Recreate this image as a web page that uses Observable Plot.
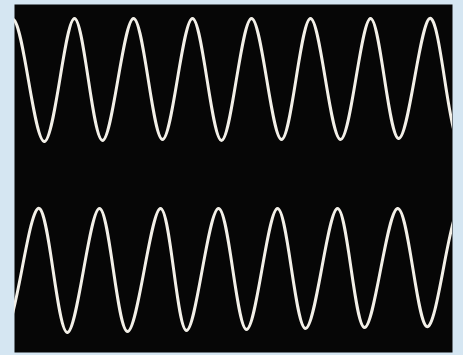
<!DOCTYPE html>
<html>
<head>
<meta charset="utf-8">
<script src="https://cdn.jsdelivr.net/npm/d3@7"></script>
<script src="https://cdn.jsdelivr.net/npm/@observablehq/plot@0.6"></script>
<style>
  html, body { margin: 0; padding: 0; background: #d5e6f2; }
  #chart svg { display: block; }
</style>
</head>
<body>
<div id="chart"></div>
<script>
// Trace 1 (upper): turning points (time, level)
const upperTime  = [-61, -31, -1, 30, 60, 88, 119, 148, 178, 207, 237, 267, 296, 326, 356, 384, 415, 442, 472];
const upperLevel = [333, 212, 333, 211, 334, 212, 334, 213, 334, 212, 334, 213, 334, 213, 334, 214, 334, 214, 334];

// Trace 2 (lower): turning points (time, level)
const lowerTime  = [-40, -8, 25, 53, 85, 113, 146, 172, 204, 232, 263, 291, 323, 350, 383, 412, 443, 472];
const lowerLevel = [144, 20, 144, 20, 144, 21, 144, 22, 144, 23, 144, 24, 144, 25, 144, 26, 143, 26];

const upper = upperTime.map((t, i) => ({t, v: upperLevel[i]}));
const lower = lowerTime.map((t, i) => ({t, v: lowerLevel[i]}));

const chart = Plot.plot({
  width: 463,
  height: 355,
  marginLeft: 14,
  marginRight: 11,
  marginTop: 4,
  marginBottom: 3,
  style: {background: "#d5e6f2"},
  x: {domain: [0, 438], axis: null},
  y: {domain: [0, 348], axis: null},
  marks: [
    Plot.frame({fill: "#060606", stroke: "none"}),
    Plot.line(upper, {x: "t", y: "v", curve: "natural", stroke: "#f3f0e8", strokeWidth: 3, clip: true}),
    Plot.line(lower, {x: "t", y: "v", curve: "natural", stroke: "#f3f0e8", strokeWidth: 3, clip: true})
  ]
});
document.getElementById("chart").append(chart);
</script>
</body>
</html>
